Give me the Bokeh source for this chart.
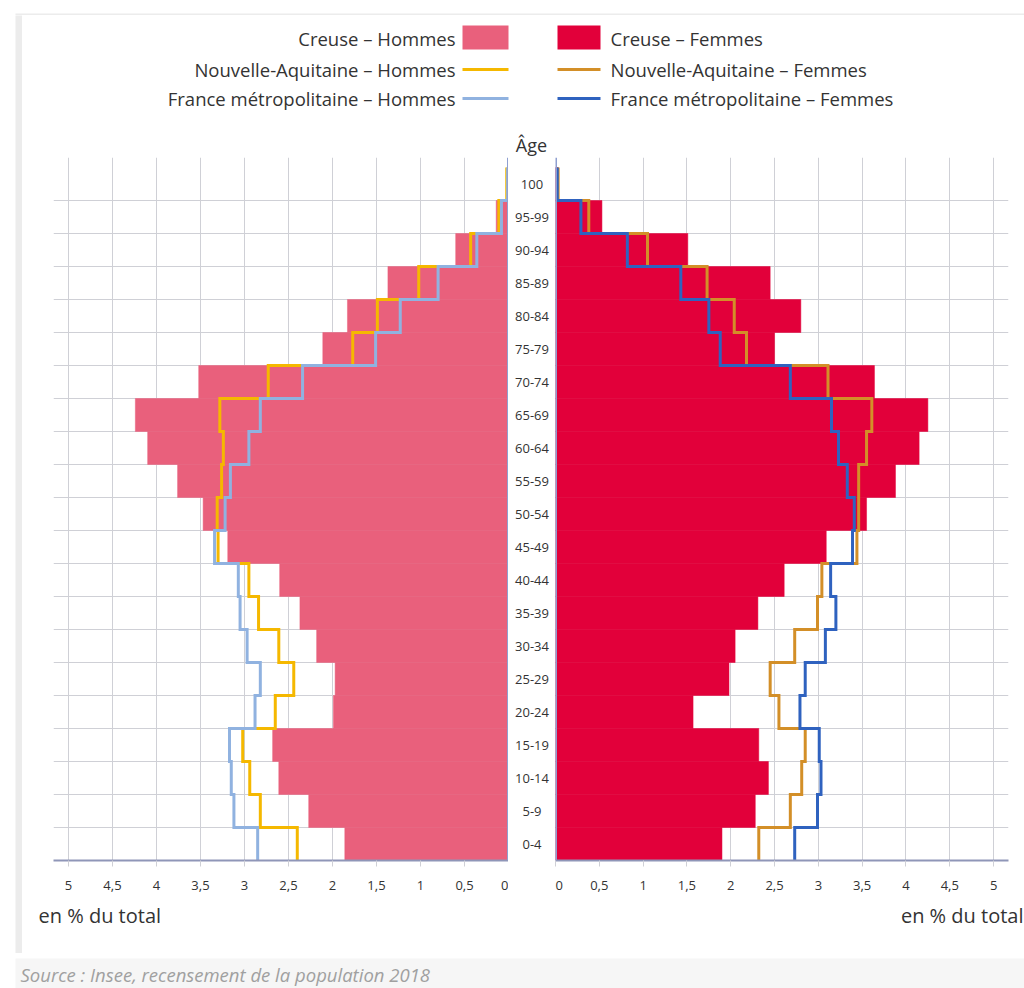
from bokeh.plotting import figure
from bokeh.layouts import column, row
from bokeh.models import Range1d, FixedTicker, CustomJSTickFormatter, Span
from bokeh.embed import file_html
from bokeh.resources import INLINE
from bokeh.core.properties import value

# ---------------- data ----------------
ages = ["0-4", "5-9", "10-14", "15-19", "20-24", "25-29", "30-34", "35-39",
        "40-44", "45-49", "50-54", "55-59", "60-64", "65-69", "70-74", "75-79",
        "80-84", "85-89", "90-94", "95-99", "100"]

creuse_h = [1.86, 2.27, 2.61, 2.68, 1.99, 1.97, 2.18, 2.37, 2.60, 3.19, 3.47,
            3.76, 4.10, 4.24, 3.52, 2.11, 1.83, 1.37, 0.60, 0.14, 0.01]
na_h = [2.40, 2.82, 2.94, 3.02, 2.65, 2.44, 2.61, 2.84, 2.95, 3.30, 3.31,
        3.26, 3.24, 3.28, 2.73, 1.77, 1.49, 1.02, 0.43, 0.11, 0.02]
fr_h = [2.85, 3.12, 3.15, 3.17, 2.88, 2.82, 2.97, 3.05, 3.07, 3.34, 3.22,
        3.16, 2.95, 2.82, 2.34, 1.51, 1.23, 0.80, 0.36, 0.08, 0.01]

creuse_f = [1.90, 2.28, 2.43, 2.32, 1.57, 1.98, 2.05, 2.31, 2.61, 3.09, 3.55,
            3.88, 4.15, 4.25, 3.64, 2.50, 2.80, 2.45, 1.51, 0.53, 0.03]
na_f = [2.32, 2.68, 2.81, 2.85, 2.55, 2.45, 2.73, 2.99, 3.04, 3.44, 3.46,
        3.46, 3.55, 3.61, 3.11, 2.18, 2.04, 1.73, 1.05, 0.38, 0.03]
fr_f = [2.73, 2.99, 3.03, 3.01, 2.79, 2.85, 3.08, 3.20, 3.14, 3.39, 3.41,
        3.33, 3.23, 3.15, 2.68, 1.88, 1.75, 1.43, 0.82, 0.29, 0.02]

labels_h = ["Creuse – Hommes", "Nouvelle-Aquitaine – Hommes", "France métropolitaine – Hommes"]
labels_f = ["Creuse – Femmes", "Nouvelle-Aquitaine – Femmes", "France métropolitaine – Femmes"]
x_ticks = [0, 0.5, 1, 1.5, 2, 2.5, 3, 3.5, 4, 4.5, 5]
axis_title = "en % du total"
age_title = "Âge"
source_text = "Source : Insee, recensement de la population 2018"

# ---------------- styles ----------------
FONT = "Open Sans"
C_CREUSE_H = "#e9607c"
C_CREUSE_F = "#e2003a"
C_NA_H = "#f5b800"
C_NA_F = "#d38f28"
C_FR_H = "#90b2e0"
C_FR_F = "#2f62bf"
GRID = "#cfd0d6"
AXIS = "#8f96b8"
CENTER = "#8f9fd0"
BAND = "#ececec"
TXT = "#333333"


def blank(w, h, color):
    f = figure(width=w, height=h, toolbar_location=None, output_backend="svg",
               x_axis_type=None, y_axis_type=None, min_border=0,
               x_range=Range1d(0, 1), y_range=Range1d(0, 1))
    f.grid.visible = False
    f.outline_line_color = None
    f.background_fill_color = color
    f.border_fill_color = color
    return f


def step_path(vals):
    xs, ys = [], []
    for i, v in enumerate(vals):
        xs += [v, v]
        ys += [i - 0.5, i + 0.5]
    return xs, ys


n = len(ages)
idx = list(range(n))
ROW_H = 743
FRAME_H = ROW_H - 40
y_end = -0.5 + FRAME_H / 33.0
y_range = Range1d(-0.5, y_end)
boundaries = [i + 0.5 for i in range(n - 1)]


def panel(side, bars, l1, l2, c_bar, c1, c2):
    if side == "L":
        xr = Range1d(5.17, 0)
        w, mbl, mbr = 486, 31, 0
    else:
        xr = Range1d(0, 5.17)
        w, mbl, mbr = 469, 0, 16
    p = figure(width=w, height=ROW_H, x_range=xr, y_range=y_range,
               toolbar_location=None, output_backend="svg",
               y_axis_location=None, min_border_left=mbl, min_border_right=mbr,
               min_border_top=0, min_border_bottom=40)
    p.outline_line_color = None
    p.background_fill_color = "white"
    p.border_fill_color = "white"
    # grids
    p.xgrid.ticker = FixedTicker(ticks=x_ticks[1:])
    p.xgrid.grid_line_color = GRID
    p.xgrid.grid_line_width = 1
    p.ygrid.ticker = FixedTicker(ticks=boundaries)
    p.ygrid.grid_line_color = GRID
    p.ygrid.grid_line_width = 1
    # axis
    ax = p.xaxis[0]
    ax.ticker = FixedTicker(ticks=x_ticks)
    ax.formatter = CustomJSTickFormatter(code="return String(tick).replace('.', ',');")
    ax.axis_line_color = AXIS
    ax.axis_line_width = 2
    ax.major_tick_line_color = GRID
    ax.major_tick_out = 6
    ax.major_tick_in = 0
    ax.minor_tick_line_color = None
    ax.major_label_text_font = FONT
    ax.major_label_text_font_size = "13px"
    ax.major_label_text_color = TXT
    ax.major_label_standoff = 14
    # bars
    p.hbar(y=idx, left=0, right=bars, height=1.0, fill_color=c_bar,
           line_color=c_bar, line_width=0.5)
    # step lines
    xs, ys = step_path(l1)
    p.line(xs, ys, line_color=c1, line_width=3, line_join="miter")
    xs, ys = step_path(l2)
    p.line(xs, ys, line_color=c2, line_width=3, line_join="miter")
    p.add_layout(Span(location=0, dimension="height", line_color=CENTER, line_width=3))
    return p


left = panel("L", creuse_h, na_h, fr_h, C_CREUSE_H, C_NA_H, C_FR_H)
right = panel("R", creuse_f, na_f, fr_f, C_CREUSE_F, C_NA_F, C_FR_F)

mid = figure(width=47, height=ROW_H, x_range=Range1d(0, 1), y_range=y_range,
             toolbar_location=None, output_backend="svg",
             x_axis_type=None, y_axis_type=None,
             min_border_left=0, min_border_right=0, min_border_top=0, min_border_bottom=40)
mid.grid.visible = False
mid.outline_line_color = None
mid.text(x=[0.5] * n, y=idx, text=ages, text_align="center", text_baseline="middle",
         text_font=value(FONT), text_font_size="13px", text_color=TXT)

# ---------------- legend ----------------
LW, LH = 1002, 142
leg = figure(width=LW, height=LH, x_range=Range1d(0, LW), y_range=Range1d(LH, 0),
             toolbar_location=None, output_backend="svg",
             x_axis_type=None, y_axis_type=None, min_border=0)
leg.grid.visible = False
leg.outline_line_color = None
row_y = [23, 54, 83]
leg.text(x=[433] * 3, y=row_y, text=labels_h, text_align="right", text_baseline="middle",
         text_font=value(FONT), text_font_size="18.5px", text_color=TXT)
leg.text(x=[588] * 3, y=row_y, text=labels_f, text_align="left", text_baseline="middle",
         text_font=value(FONT), text_font_size="18.5px", text_color=TXT)
leg.quad(left=[440], right=[486], top=[10], bottom=[34], fill_color=C_CREUSE_H, line_color=None)
leg.quad(left=[535], right=[578], top=[10], bottom=[34], fill_color=C_CREUSE_F, line_color=None)
leg.segment(x0=[440, 440], x1=[486, 486], y0=row_y[1:], y1=row_y[1:],
            line_color=[C_NA_H, C_FR_H], line_width=3)
leg.segment(x0=[535, 535], x1=[578, 578], y0=row_y[1:], y1=row_y[1:],
            line_color=[C_NA_F, C_FR_F], line_width=3)
leg.text(x=[509], y=[129], text=[age_title], text_align="center", text_baseline="middle",
         text_font=value(FONT), text_font_size="18px", text_color=TXT)

# ---------------- footer ----------------
foot = figure(width=LW, height=53, x_range=Range1d(0, LW), y_range=Range1d(53, 0),
              toolbar_location=None, output_backend="svg",
              x_axis_type=None, y_axis_type=None, min_border=0)
foot.grid.visible = False
foot.outline_line_color = None
foot.text(x=[16], y=[15], text=[axis_title], text_align="left", text_baseline="middle",
          text_font=value(FONT), text_font_size="20px", text_color=TXT)
foot.text(x=[1001], y=[15], text=[axis_title], text_align="right", text_baseline="middle",
          text_font=value(FONT), text_font_size="20px", text_color=TXT)

# ---------------- source ----------------
src = figure(width=1009, height=30, x_range=Range1d(0, 1009), y_range=Range1d(30, 0),
             toolbar_location=None, output_backend="svg",
             x_axis_type=None, y_axis_type=None, min_border=0)
src.grid.visible = False
src.outline_line_color = None
src.background_fill_color = "#f6f6f6"
src.border_fill_color = "#f6f6f6"
src.text(x=[5], y=[16], text=[source_text], text_align="left", text_baseline="middle",
         text_font=value(FONT), text_font_size="18.5px", text_font_style="italic",
         text_color="#a0a0a0")

layout = column(
    row(blank(15, 8, "white"), blank(1009, 8, "white")),
    row(blank(15, 7, "white"), blank(1009, 7, BAND)),
    row(blank(15, 938, "white"), blank(7, 938, BAND),
        column(leg, row(left, mid, right), foot)),
    row(blank(15, 5, "white"), blank(1009, 5, BAND)),
    row(blank(15, 30, "white"), src),
)

open("out.html", "w").write(file_html(layout, INLINE, title="Pyramide des âges"))
